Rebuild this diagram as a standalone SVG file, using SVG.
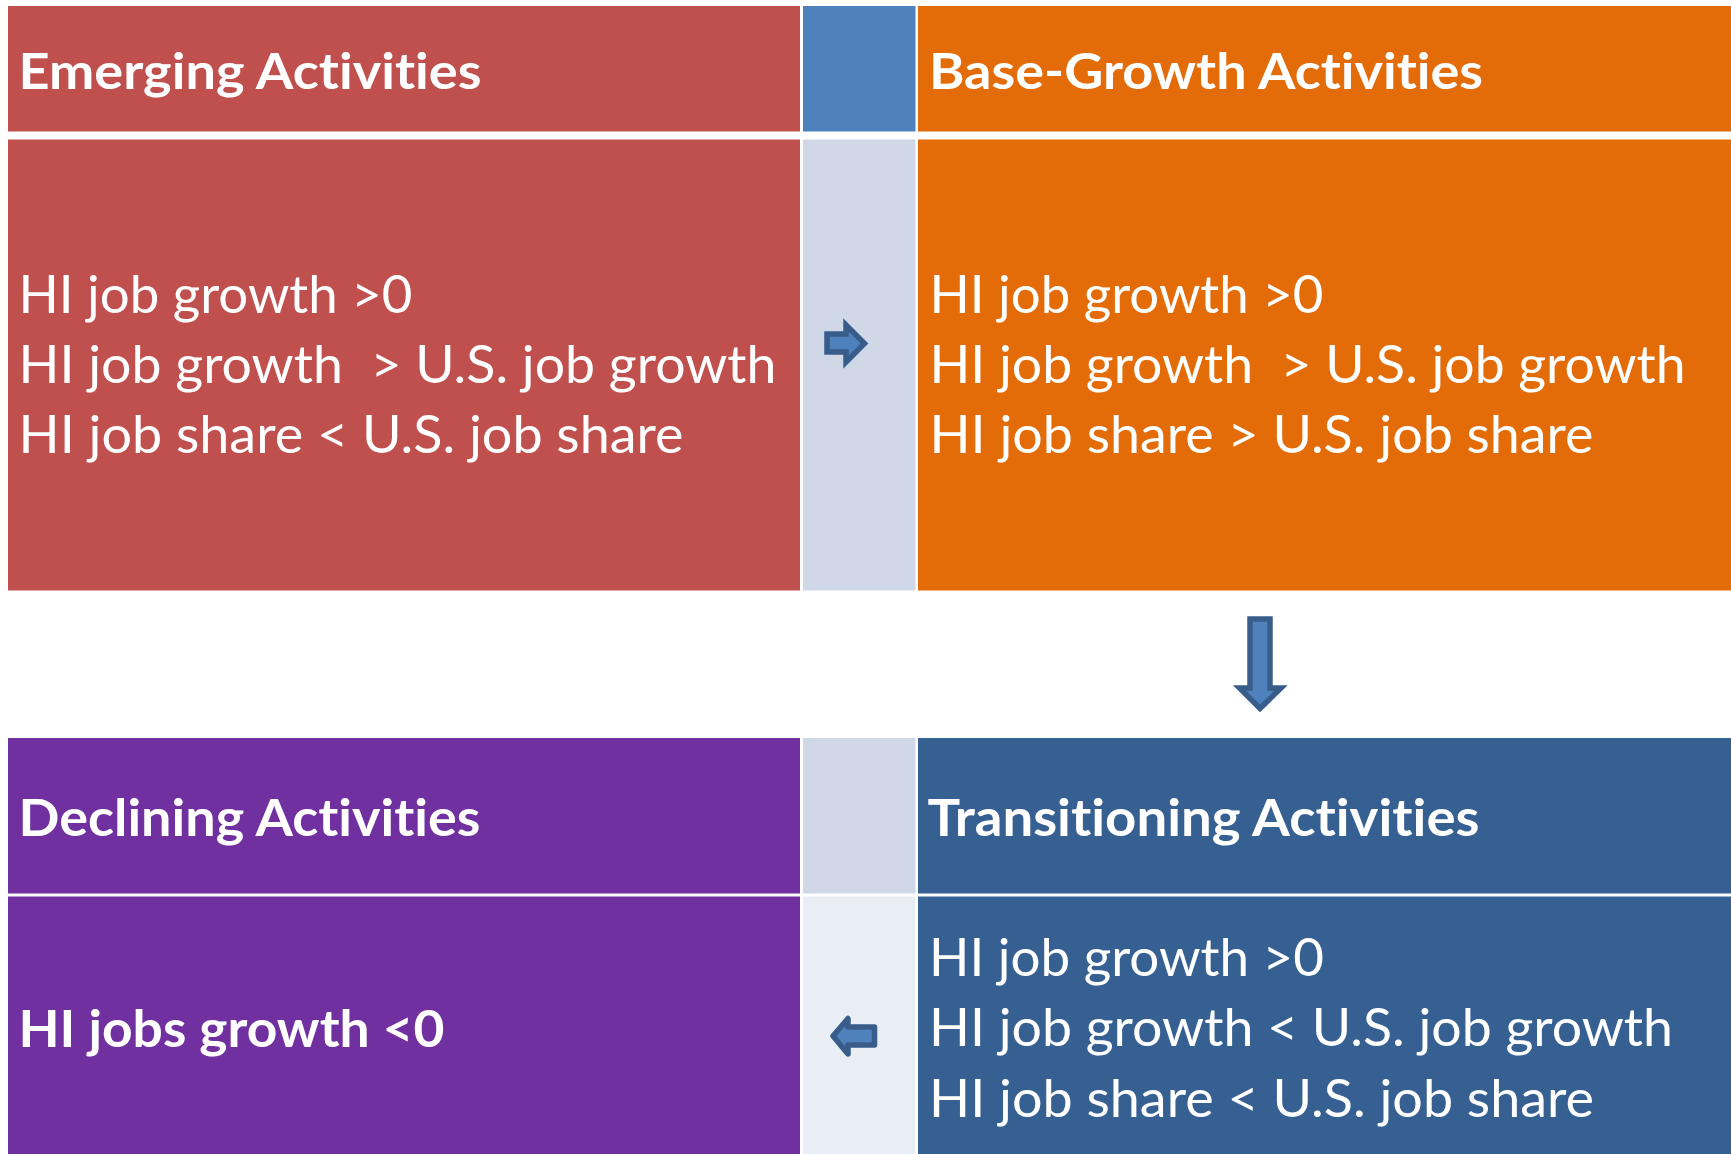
<svg xmlns="http://www.w3.org/2000/svg" width="1731" height="1154" viewBox="0 0 1731 1154">
<style>
  .t { font-family: Lato, "Open Sans", "Liberation Sans", sans-serif; fill: #FFFFFF; font-variant-ligatures: none; font-feature-settings: "liga" 0, "clig" 0; }
  .hd { font-weight: bold; font-size: 50px; }
  .hd2 { font-weight: bold; font-size: 52px; }
  .bd { font-size: 53px; }
  .arr { fill: #4F81BD; stroke: #385D8A; stroke-width: 5.5; }
</style>
<rect x="0" y="0" width="1731" height="1154" fill="#FFFFFF"/>

<g id="emerging">
  <rect x="8" y="6" width="792" height="125.5" fill="#C0504D"/>
  <rect x="8" y="139.5" width="792" height="451" fill="#C0504D"/>
  <text class="t hd" x="18.5" y="89" textLength="463" lengthAdjust="spacingAndGlyphs">Emerging Activities</text>
  <text class="t bd" x="18.5" y="313" textLength="394" lengthAdjust="spacingAndGlyphs">HI job growth &gt;0</text>
  <text class="t bd" x="18.5" y="383" textLength="758" lengthAdjust="spacingAndGlyphs" xml:space="preserve">HI job growth  &gt; U.S. job growth</text>
  <text class="t bd" x="18.5" y="453" textLength="665" lengthAdjust="spacingAndGlyphs">HI job share &lt; U.S. job share</text>
</g>

<g id="middle-top">
  <rect x="803" y="6" width="112.5" height="125.5" fill="#4F81BD"/>
  <rect x="803" y="139.5" width="112.5" height="451" fill="#D0D8E8"/>
</g>

<g id="base-growth">
  <rect x="918" y="6" width="813" height="125.5" fill="#E36C09"/>
  <rect x="918" y="139.5" width="813" height="451" fill="#E36C09"/>
  <text class="t hd" x="929" y="89" textLength="554" lengthAdjust="spacingAndGlyphs">Base-Growth Activities</text>
  <text class="t bd" x="929.5" y="313" textLength="394" lengthAdjust="spacingAndGlyphs">HI job growth &gt;0</text>
  <text class="t bd" x="929.5" y="383" textLength="756" lengthAdjust="spacingAndGlyphs" xml:space="preserve">HI job growth  &gt; U.S. job growth</text>
  <text class="t bd" x="929.5" y="453" textLength="664" lengthAdjust="spacingAndGlyphs">HI job share &gt; U.S. job share</text>
</g>

<g id="declining">
  <rect x="8" y="738" width="792" height="155.5" fill="#7030A0"/>
  <rect x="8" y="896.5" width="792" height="257.5" fill="#7030A0"/>
  <text class="t hd2" x="18.5" y="836" textLength="462" lengthAdjust="spacingAndGlyphs">Declining Activities</text>
  <text class="t hd2" x="18.5" y="1047" textLength="426" lengthAdjust="spacingAndGlyphs">HI jobs growth &lt;0</text>
</g>

<g id="middle-bottom">
  <rect x="803" y="738" width="112.5" height="155.5" fill="#D0D8E8"/>
  <rect x="803" y="896.5" width="112.5" height="257.5" fill="#E9EDF4"/>
</g>

<g id="transitioning">
  <rect x="918" y="738" width="813" height="155.5" fill="#376092"/>
  <rect x="918" y="896.5" width="813" height="257.5" fill="#376092"/>
  <text class="t hd2" x="927.5" y="836" textLength="552" lengthAdjust="spacingAndGlyphs">Transitioning Activities</text>
  <text class="t bd" x="929" y="976" textLength="395" lengthAdjust="spacingAndGlyphs">HI job growth &gt;0</text>
  <text class="t bd" x="929" y="1046" textLength="744" lengthAdjust="spacingAndGlyphs">HI job growth &lt; U.S. job growth</text>
  <text class="t bd" x="929" y="1116.5" textLength="665" lengthAdjust="spacingAndGlyphs">HI job share &lt; U.S. job share</text>
</g>

<g id="connectors">
  <path class="arr" stroke-linejoin="miter" d="M827,334 L846,334 L846,325 L864.5,343.5 L846,362 L846,352 L827,352 Z"/>
  <path class="arr" stroke-linejoin="miter" d="M1250,619 L1270,619 L1270,688 L1281,688 L1260,708.5 L1239.5,688 L1250,688 Z"/>
  <path class="arr" stroke-linejoin="round" d="M833,1036 L848,1018.5 L848,1027 L874.5,1027 L874.5,1045 L848,1045 L848,1054 Z"/>
</g>
</svg>
